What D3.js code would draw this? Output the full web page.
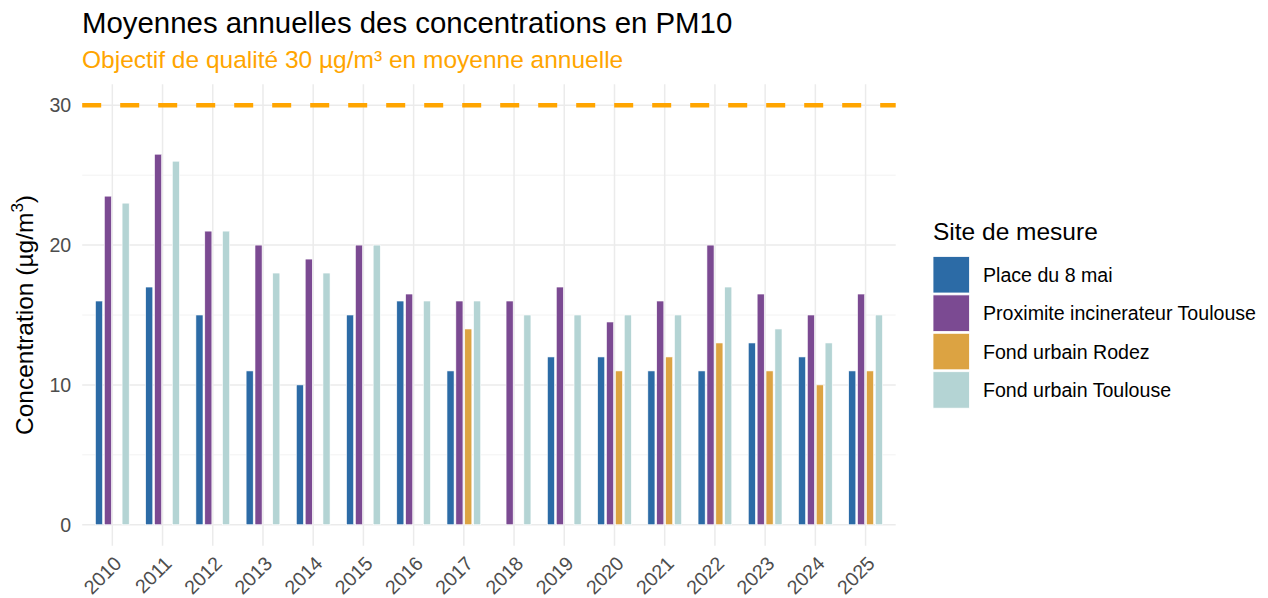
<!DOCTYPE html>
<html>
<head>
<meta charset="utf-8">
<script src="https://cdn.jsdelivr.net/npm/d3@7"></script>
<style>
  html, body { margin: 0; padding: 0; background: #ffffff; }
  svg { display: block; }
  text { font-family: "Liberation Sans", Arial, sans-serif; }
</style>
</head>
<body>
<svg id="chart" width="1268" height="598"></svg>
<script>
// ---- data ----
const years = ["2010","2011","2012","2013","2014","2015","2016","2017","2018","2019","2020","2021","2022","2023","2024","2025"];
const seriesNames = ["Place du 8 mai", "Proximite incinerateur Toulouse", "Fond urbain Rodez", "Fond urbain Toulouse"];
const place8Mai   = [16, 17, 15, 11, 10, 15, 16, 11, null, 12, 12, 11, 11, 13, 12, 11];
const incinerateur = [23.5, 26.5, 21, 20, 19, 20, 16.5, 16, 16, 17, 14.5, 16, 20, 16.5, 15, 16.5];
const rodez       = [null, null, null, null, null, null, null, 14, null, null, 11, 12, 13, 11, 10, 11];
const fondToulouse = [23, 26, 21, 18, 18, 20, 16, 16, 15, 15, 15, 15, 17, 14, 13, 15];
const seriesColors = ["#2c6ba6", "#7b4a92", "#dca342", "#b4d4d4"];
const yMajorTicks = [0, 10, 20, 30];
const yMinorTicks = [5, 15, 25];
const objectif = 30;

const seriesValues = [place8Mai, incinerateur, rodez, fondToulouse];
const rows = [];
years.forEach((yr, i) => {
  seriesNames.forEach((s, j) => {
    if (seriesValues[j][i] != null) rows.push({ year: yr, series: s, value: seriesValues[j][i] });
  });
});

// ---- layout ----
const svg = d3.select("#chart");
const panel = { left: 82.2, right: 895.7, top: 84.3, bottom: 545.7 };

const x = d3.scalePoint().domain(years).range([panel.left, panel.right]).padding(0.6);
const step = x.step();
const xInner = d3.scaleBand().domain(seriesNames)
  .range([-step * 0.3535, step * 0.3535]).paddingInner(0.2).paddingOuter(0.1);
const y = d3.scaleLinear().domain([-1.5, 31.5]).range([panel.bottom, panel.top]);
const color = d3.scaleOrdinal().domain(seriesNames).range(seriesColors);

// gridlines
const grid = svg.append("g");
grid.selectAll("line.minor").data(yMinorTicks).join("line")
  .attr("x1", panel.left).attr("x2", panel.right)
  .attr("y1", d => y(d)).attr("y2", d => y(d))
  .attr("stroke", "#f2f2f2").attr("stroke-width", 1);
grid.selectAll("line.majorY").data(yMajorTicks).join("line")
  .attr("x1", panel.left).attr("x2", panel.right)
  .attr("y1", d => y(d)).attr("y2", d => y(d))
  .attr("stroke", "#ebebeb").attr("stroke-width", 1.5);
grid.selectAll("line.majorX").data(years).join("line")
  .attr("x1", d => x(d)).attr("x2", d => x(d))
  .attr("y1", panel.top).attr("y2", panel.bottom)
  .attr("stroke", "#ebebeb").attr("stroke-width", 1.5);

// objective dashed line
svg.append("line")
  .attr("x1", panel.left).attr("x2", panel.right)
  .attr("y1", y(objectif)).attr("y2", y(objectif))
  .attr("stroke", "#ffa500").attr("stroke-width", 4.3)
  .attr("stroke-dasharray", "19 19");

// bars
svg.append("g").selectAll("rect").data(rows).join("rect")
  .attr("x", d => x(d.year) + xInner(d.series))
  .attr("width", xInner.bandwidth())
  .attr("y", d => y(d.value))
  .attr("height", d => y(0) - y(d.value))
  .attr("fill", d => color(d.series))
  .attr("stroke", "#ffffff").attr("stroke-width", 0.6);

// y axis labels
const yAxis = d3.axisLeft(y).tickValues(yMajorTicks).tickSize(0).tickPadding(0);
const gy = svg.append("g").attr("transform", `translate(${panel.left - 11},0)`).call(yAxis);
gy.select(".domain").remove();
gy.selectAll("text").attr("font-size", 19.6).attr("fill", "#4d4d4d")
  .attr("font-family", "'Liberation Sans', Arial, sans-serif");

// x axis labels
const xAxis = d3.axisBottom(x).tickSize(0).tickPadding(0);
const gx = svg.append("g").attr("transform", `translate(0,${panel.bottom + 9})`).call(xAxis);
gx.select(".domain").remove();
gx.selectAll("text")
  .attr("font-size", 19.6).attr("fill", "#4d4d4d")
  .attr("font-family", "'Liberation Sans', Arial, sans-serif")
  .attr("text-anchor", "end")
  .attr("x", 0).attr("y", 0).attr("dy", "0.72em")
  .attr("transform", "rotate(-45)");

// y title
const yt = svg.append("text")
  .attr("transform", `translate(33,${(panel.top + panel.bottom) / 2}) rotate(-90)`)
  .attr("text-anchor", "middle").attr("font-size", 24.5).attr("fill", "#000");
yt.append("tspan").text("Concentration (µg/m");
yt.append("tspan").attr("font-size", 17).attr("dy", -10).text("3");
yt.append("tspan").attr("dy", 10).text(")");

// titles
svg.append("text").attr("x", 82).attr("y", 33).attr("font-size", 29.4).attr("fill", "#000")
  .text("Moyennes annuelles des concentrations en PM10");
svg.append("text").attr("x", 82).attr("y", 68).attr("font-size", 24.5).attr("fill", "#ffa500")
  .text("Objectif de qualité 30 µg/m³ en moyenne annuelle");

// legend
const lg = svg.append("g").attr("transform", "translate(933,0)");
lg.append("text").attr("x", 0).attr("y", 240).attr("font-size", 24.5).attr("fill", "#000")
  .text("Site de mesure");
const items = lg.selectAll("g.item").data(seriesNames).join("g")
  .attr("transform", (d, i) => `translate(0,${256.5 + i * 38.4})`);
items.append("rect").attr("width", 36.5).attr("height", 36.5)
  .attr("fill", d => color(d)).attr("stroke", "#ffffff").attr("stroke-width", 0.8);
items.append("text").attr("x", 50).attr("y", 18.25).attr("dy", "0.36em")
  .attr("font-size", 19.6).attr("fill", "#000").text(d => d);
</script>
</body>
</html>
